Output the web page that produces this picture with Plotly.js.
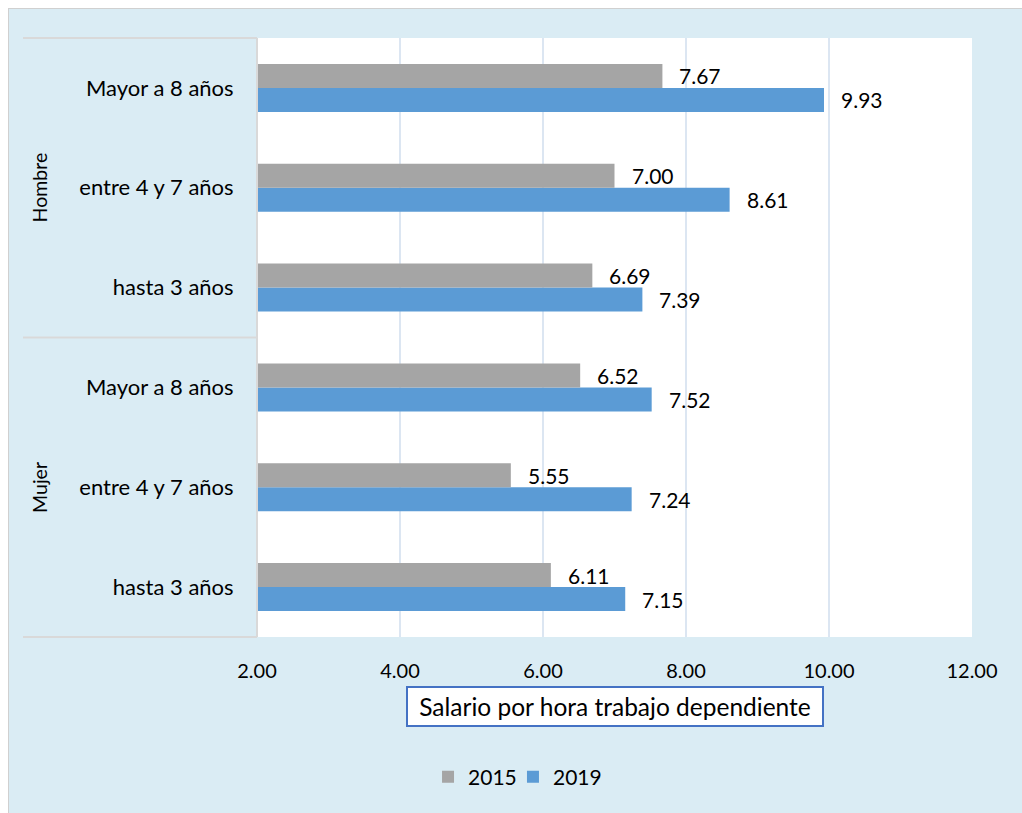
<!DOCTYPE html>
<html>
<head>
<meta charset="utf-8">
<script src="https://cdn.plot.ly/plotly-3.0.1.min.js"></script>
<style>
  html, body { margin: 0; padding: 0; background: #ffffff; }
  #frame {
    position: absolute; left: 8px; top: 8px;
    width: 1013px; height: 804px;
    border-left: 1px solid #d0d0d0; border-top: 1px solid #d0d0d0;
    background: #DAECF4;
  }
  #chart { width: 1013px; height: 804px; }
</style>
</head>
<body>
<div id="frame"><div id="chart"></div></div>
<script>
// Categories, bottom to top (group | experience band)
const categoryKeys = [
  "Mujer|hasta 3 años", "Mujer|entre 4 y 7 años", "Mujer|Mayor a 8 años",
  "Hombre|hasta 3 años", "Hombre|entre 4 y 7 años", "Hombre|Mayor a 8 años"
];
const categoryLabels = [
  "hasta 3 años", "entre 4 y 7 años", "Mayor a 8 años",
  "hasta 3 años", "entre 4 y 7 años", "Mayor a 8 años"
];
const groupLabels = ["Mujer", "Hombre"];

// Hourly wage of dependent work
const wages2015 = [6.11, 5.55, 6.52, 6.69, 7.00, 7.67];
const wages2019 = [7.15, 7.24, 7.52, 7.39, 8.61, 9.93];

const xTickValues = [2, 4, 6, 8, 10, 12];
const xTickLabels = ["2.00", "4.00", "6.00", "8.00", "10.00", "12.00"];

const FONT = "Lato, 'Noto Sans', sans-serif";
const GRAY = "#A5A5A5";
const BLUE = "#5B9BD5";
const LINE = "#D9D9D9";

// 2019 first so that it sits below 2015 within each group
const traces = [
  {
    type: "bar", orientation: "h", name: "2019",
    y: categoryKeys, x: wages2019,
    marker: { color: BLUE }, legend: "legend2",
    hoverinfo: "x+name"
  },
  {
    type: "bar", orientation: "h", name: "2015",
    y: categoryKeys, x: wages2015,
    marker: { color: GRAY }, legend: "legend",
    hoverinfo: "x+name"
  }
];

// Value labels to the right of each bar end
const annotations = [];
categoryKeys.forEach((k, i) => {
  annotations.push({
    x: wages2015[i], y: k, xref: "x", yref: "y",
    text: wages2015[i].toFixed(2), showarrow: false,
    xanchor: "left", yanchor: "middle", xshift: 15, yshift: 12,
    font: { family: FONT, size: 21, color: "#000" }
  });
  annotations.push({
    x: wages2019[i], y: k, xref: "x", yref: "y",
    text: wages2019[i].toFixed(2), showarrow: false,
    xanchor: "left", yanchor: "middle", xshift: 15, yshift: -12,
    font: { family: FONT, size: 21, color: "#000" }
  });
});

// Group labels, rotated, in the left panel
groupLabels.forEach((g, i) => {
  annotations.push({
    x: -0.304, y: 0.25 + 0.5 * i, xref: "paper", yref: "paper",
    text: g, showarrow: false, textangle: -90,
    xanchor: "center", yanchor: "middle",
    font: { family: FONT, size: 19.5, color: "#000" }
  });
});

// Boxed x-axis title
annotations.push({
  x: 0.5007, y: -0.1152, xref: "paper", yref: "paper",
  text: "Salario por hora trabajo dependiente", showarrow: false,
  xanchor: "center", yanchor: "middle",
  width: 414, height: 37,
  bgcolor: "#ffffff", bordercolor: "#4472C4", borderwidth: 2, borderpad: 0,
  font: { family: FONT, size: 24.5, color: "#000" }
});

const panelLeft = -0.3273;
const shapes = [
  { type: "line", xref: "paper", yref: "paper", x0: panelLeft, x1: 0, y0: 1, y1: 1, line: { color: LINE, width: 2 } },
  { type: "line", xref: "paper", yref: "paper", x0: panelLeft, x1: 0, y0: 0.5, y1: 0.5, line: { color: LINE, width: 2 } },
  { type: "line", xref: "paper", yref: "paper", x0: panelLeft, x1: 0, y0: 0, y1: 0, line: { color: LINE, width: 2 } },
  { type: "line", xref: "paper", yref: "paper", x0: 0, x1: 0, y0: 0, y1: 1, line: { color: LINE, width: 2 } }
];

const legendStyle = {
  orientation: "h", y: -0.2337,
  xanchor: "left", yanchor: "middle",
  font: { family: FONT, size: 21, color: "#000" },
  bgcolor: "rgba(0,0,0,0)", itemwidth: 30
};

const layout = {
  width: 1013, height: 804,
  margin: { l: 248, r: 50, t: 29, b: 176 },
  paper_bgcolor: "rgba(0,0,0,0)",
  plot_bgcolor: "#ffffff",
  barmode: "group",
  bargap: 0.52, bargroupgap: 0,
  font: { family: FONT, size: 20, color: "#000" },
  xaxis: {
    range: [2, 12], tickmode: "array",
    tickvals: xTickValues, ticktext: xTickLabels,
    showgrid: true, gridcolor: "#DCE6F2", gridwidth: 2,
    zeroline: false, showline: false,
    ticks: "outside", ticklen: 16, tickcolor: "rgba(0,0,0,0)",
    tickfont: { family: FONT, size: 20, color: "#000" },
    fixedrange: true
  },
  yaxis: {
    type: "category", categoryorder: "array", categoryarray: categoryKeys,
    tickmode: "array", tickvals: categoryKeys, ticktext: categoryLabels,
    showgrid: false, zeroline: false, showline: false,
    ticks: "outside", ticklen: 18, tickcolor: "rgba(0,0,0,0)",
    tickfont: { family: FONT, size: 22, color: "#000" },
    fixedrange: true
  },
  showlegend: true,
  legend: Object.assign({ x: 0.2392 }, legendStyle),
  legend2: Object.assign({ x: 0.3580 }, legendStyle),
  annotations: annotations,
  shapes: shapes
};

Plotly.newPlot("chart", traces, layout, { displayModeBar: false, staticPlot: true });
</script>
</body>
</html>
